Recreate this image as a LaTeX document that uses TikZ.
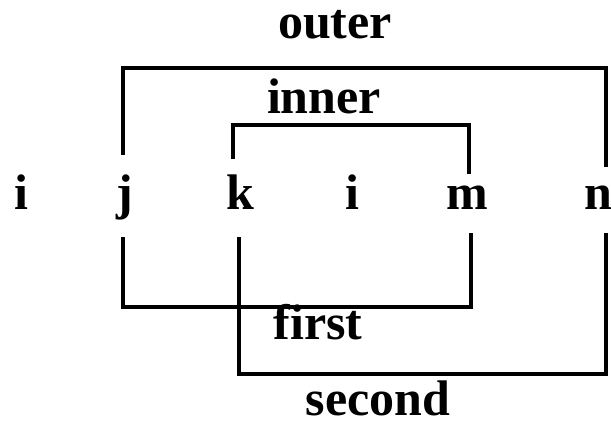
\documentclass[tikz,border=0pt]{standalone}
\usepackage{fontspec}
\setmainfont{Liberation Serif}
\begin{document}
\begin{tikzpicture}[x=1pt,y=-1pt,
  lbl/.style={inner sep=0pt,anchor=base,font=\fontsize{50}{50}\selectfont\bfseries},
  brk/.style={line width=4pt,line join=miter,line cap=butt}]
\useasboundingbox[fill=white] (0,0) rectangle (611,426);
% letters
\node[lbl] (i1) at (21,209) {i};
\node[lbl] (j) at (125,209) {j};
\node[lbl] (k) at (240,209) {k};
\node[lbl] (i2) at (352,209) {i};
\node[lbl] (m) at (467,209) {m};
\node[lbl] (n) at (598,209) {n};
% labels
\node[lbl] (outer) at (335,38) {outer};
\node[lbl] (inner) at (324,113) {inner};
\node[lbl] (first) at (318,339) {first};
\node[lbl] (second) at (378,415) {second};
% bracket end points
\coordinate (oj) at (123,155);
\coordinate (on) at (606,167);
\coordinate (ik) at (233,159);
\coordinate (im) at (469,174);
\coordinate (fj) at (123,237);
\coordinate (fm) at (471,233);
\coordinate (sk) at (239,237);
\coordinate (sn) at (606,233);
% brackets
\draw[brk] (oj) -- (oj |- 0,68) -- (on |- 0,68) -- (on);
\draw[brk] (ik) -- (ik |- 0,125) -- (im |- 0,125) -- (im);
\draw[brk] (fj) -- (fj |- 0,307) -- (fm |- 0,307) -- (fm);
\draw[brk] (sk) -- (sk |- 0,374) -- (sn |- 0,374) -- (sn);
\end{tikzpicture}
\end{document}
